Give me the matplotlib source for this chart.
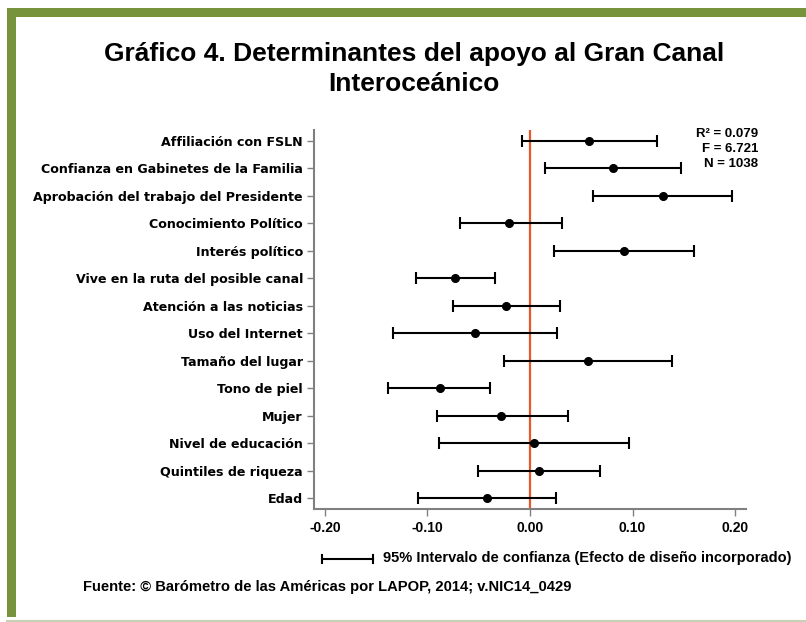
import matplotlib
matplotlib.use("Agg")
import matplotlib.pyplot as plt
from matplotlib.patches import Rectangle
from matplotlib.lines import Line2D

labels = ["Affiliación con FSLN", "Confianza en Gabinetes de la Familia",
          "Aprobación del trabajo del Presidente", "Conocimiento Político",
          "Interés político", "Vive en la ruta del posible canal",
          "Atención a las noticias", "Uso del Internet", "Tamaño del lugar",
          "Tono de piel", "Mujer", "Nivel de educación",
          "Quintiles de riqueza", "Edad"]
coef = [0.058, 0.081, 0.130, -0.020, 0.092, -0.073, -0.023, -0.054, 0.057,
        -0.088, -0.028, 0.004, 0.009, -0.042]
low = [-0.008, 0.015, 0.061, -0.068, 0.023, -0.111, -0.075, -0.134, -0.025,
       -0.139, -0.091, -0.089, -0.051, -0.109]
high = [0.124, 0.147, 0.197, 0.031, 0.160, -0.034, 0.029, 0.026, 0.139,
        -0.039, 0.037, 0.097, 0.068, 0.025]
xticks = [-0.20, -0.10, 0.00, 0.10, 0.20]
xticklabels = ["-0.20", "-0.10", "0.00", "0.10", "0.20"]
stats = ["R² = 0.079", "F = 6.721", "N = 1038"]
title = "Gráfico 4. Determinantes del apoyo al Gran Canal\nInteroceánico"
legend_text = "95% Intervalo de confianza (Efecto de diseño incorporado)"
source = "Fuente: © Barómetro de las Américas por LAPOP, 2014; v.NIC14_0429"

W, H = 806, 622
fig = plt.figure(figsize=(W / 100, H / 100), dpi=100)
fig.patch.set_facecolor("white")

green = "#77933C"
# frame
fig.add_artist(Rectangle((7 / W, 1 - 617 / H), 9 / W, (617 - 8) / H,
                         transform=fig.transFigure, color=green, lw=0))
fig.add_artist(Rectangle((7 / W, 1 - 17 / H), (W - 7) / W, 9 / H,
                         transform=fig.transFigure, color=green, lw=0))
fig.add_artist(Line2D([7 / W, 1], [1 - 620.5 / H, 1 - 620.5 / H],
                      transform=fig.transFigure, color="#c9cfb4", lw=1.5))

arial = ["Liberation Sans", "DejaVu Sans"]

fig.text(414 / W, 1 - 69 / H, title, ha="center", va="center",
         fontsize=19, fontweight="bold", family=arial, linespacing=1.33)

ax = fig.add_axes([314 / W, 1 - 509 / H, (746 - 314) / W, (509 - 130) / H])
n = len(labels)
ys = list(range(n))[::-1]
ax.axvline(0, color="#E8582A", lw=1.6, zorder=1)
xerr = [[c - l for c, l in zip(coef, low)], [h - c for c, h in zip(coef, high)]]
ax.errorbar(coef, ys, xerr=xerr, fmt="o", color="black", ms=5.5,
            elinewidth=1.5, capsize=4, capthick=1.5, zorder=3)
ax.set_xlim(-0.2107, 0.2107)
ax.set_ylim(-0.4, n - 1 + 0.4)
ax.set_xticks(xticks)
ax.set_xticklabels(xticklabels)
ax.set_yticks(ys)
ax.set_yticklabels(labels)
for s in ["top", "right"]:
    ax.spines[s].set_visible(False)
for s in ["left", "bottom"]:
    ax.spines[s].set_color("#808080")
    ax.spines[s].set_linewidth(1.5)
ax.tick_params(axis="both", colors="#808080", width=1, length=5,
               labelcolor="black")
ax.tick_params(axis="y", pad=3)
for t in ax.get_yticklabels():
    t.set_fontfamily(["DejaVu Sans"])
    t.set_fontweight("bold")
    t.set_fontsize(9.05)
for t in ax.get_xticklabels():
    t.set_fontfamily(arial)
    t.set_fontweight("bold")
    t.set_fontsize(10)

for i, s in enumerate(stats):
    fig.text(758 / W, 1 - (134 + 15 * i) / H, s, ha="right", va="center",
             fontsize=9.5, fontweight="bold", family=arial)

fig.add_artist(Line2D([322 / W, 373 / W], [1 - 558.5 / H, 1 - 558.5 / H],
                      transform=fig.transFigure, color="black", lw=1.5))
for xx in (322, 373):
    fig.add_artist(Line2D([xx / W, xx / W], [1 - 554.5 / H, 1 - 562.5 / H],
                          transform=fig.transFigure, color="black", lw=1.5))
fig.text(383 / W, 1 - 558 / H, legend_text, ha="left", va="center",
         fontsize=10.5, fontweight="bold", family=arial)
fig.text(83 / W, 1 - 587 / H, source, ha="left", va="center",
         fontsize=10.6, fontweight="bold", family=arial)

fig.savefig("out.png", dpi=100)
